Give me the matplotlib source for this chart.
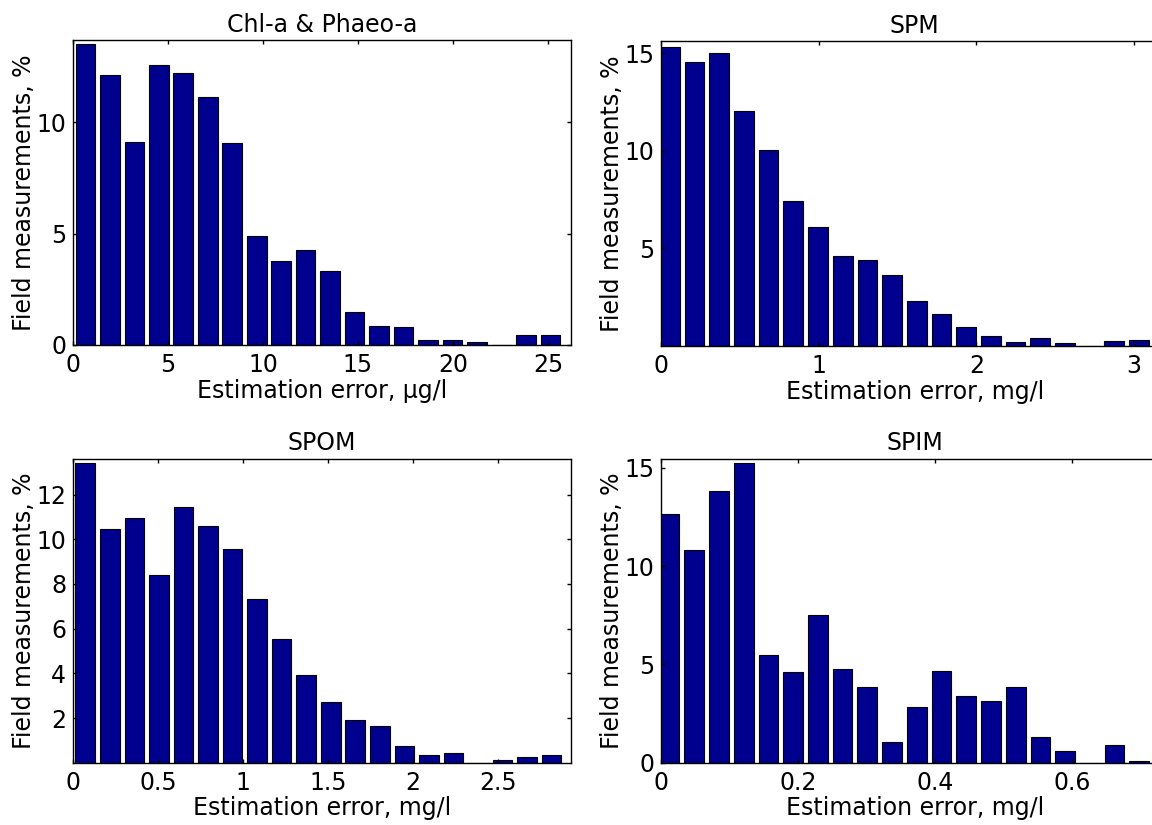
import numpy as np
import matplotlib
matplotlib.use("Agg")
import matplotlib.pyplot as plt

plt.rcParams['font.family'] = ['DejaVu Sans']
plt.rcParams['font.size'] = 17

# histogram bar heights, % of field measurements (20 bins each)
chl = [13.5, 12.13, 9.1, 12.57, 12.2, 11.12, 9.06, 4.91, 3.77, 4.24,
       3.32, 1.47, 0.85, 0.79, 0.24, 0.24, 0.13, 0.0, 0.42, 0.42]
spm = [15.34, 14.54, 15.0, 12.05, 10.05, 7.43, 6.08, 4.61, 4.42, 3.66,
       2.31, 1.62, 0.96, 0.51, 0.21, 0.39, 0.15, 0.0, 0.27, 0.32]
spom = [13.39, 10.45, 10.94, 8.38, 11.44, 10.61, 9.54, 7.33, 5.54, 3.92,
        2.70, 1.92, 1.63, 0.74, 0.36, 0.42, 0.0, 0.13, 0.25, 0.36]
spim = [12.64, 10.80, 13.84, 15.23, 5.47, 4.59, 7.50, 4.77, 3.84, 1.05,
        2.83, 4.64, 3.38, 3.13, 3.84, 1.29, 0.59, 0.0, 0.90, 0.10]

# error range covered by the bins
chl_range = (0.005, 25.78)
spm_range = (-0.024, 3.11)
spom_range = (0.0, 2.89)
spim_range = (-0.006, 0.716)

titles = ["Chl-a & Phaeo-a", "SPM", "SPOM", "SPIM"]
xlabels = ["Estimation error, \u00b5g/l", "Estimation error, mg/l",
           "Estimation error, mg/l", "Estimation error, mg/l"]
ylabel = "Field measurements, %"

xticks = [[0, 5, 10, 15, 20, 25], [0, 1, 2, 3],
          [0, 0.5, 1, 1.5, 2, 2.5], [0, 0.2, 0.4, 0.6]]
xticklabels = [["0", "5", "10", "15", "20", "25"], ["0", "1", "2", "3"],
               ["0", "0.5", "1", "1.5", "2", "2.5"], ["0", "0.2", "0.4", "0.6"]]
yticks = [[0, 5, 10], [5, 10, 15], [2, 4, 6, 8, 10, 12], [0, 5, 10, 15]]
xlims = [26.2, 3.216, 2.93, 0.740]
ylims = [13.7, 15.63, 13.61, 15.47]

data = [chl, spm, spom, spim]
ranges = [chl_range, spm_range, spom_range, spim_range]

fig = plt.figure(figsize=(11.52, 8.25), dpi=100)
positions = [[0.0634, 0.582, 0.432, 0.3697],
             [0.574, 0.5806, 0.44, 0.3697],
             [0.0634, 0.0755, 0.432, 0.3687],
             [0.574, 0.0755, 0.44, 0.3687]]

for i in range(4):
    ax = fig.add_axes(positions[i])
    vals = np.array(data[i])
    lo, hi = ranges[i]
    w = (hi - lo) / len(vals)
    centers = lo + w * (np.arange(len(vals)) + 0.5)
    ax.bar(centers, vals, width=0.8 * w, color="#00008f",
           edgecolor="black", linewidth=0.8)
    ax.set_xlim(0, xlims[i])
    ax.set_ylim(0, ylims[i])
    ax.set_xticks(xticks[i])
    ax.set_xticklabels(xticklabels[i])
    ax.set_yticks(yticks[i])
    ax.tick_params(direction="in", length=3, width=1, top=True, right=True)
    ax.tick_params(axis="x", pad=6)
    ax.tick_params(axis="y", pad=5)
    for s in ax.spines.values():
        s.set_linewidth(1)
    ax.set_title(titles[i], fontsize=17, pad=6)
    ax.set_xlabel(xlabels[i], labelpad=1)
    ax.set_ylabel(ylabel, labelpad=0)

fig.savefig("out.png", dpi=100)
